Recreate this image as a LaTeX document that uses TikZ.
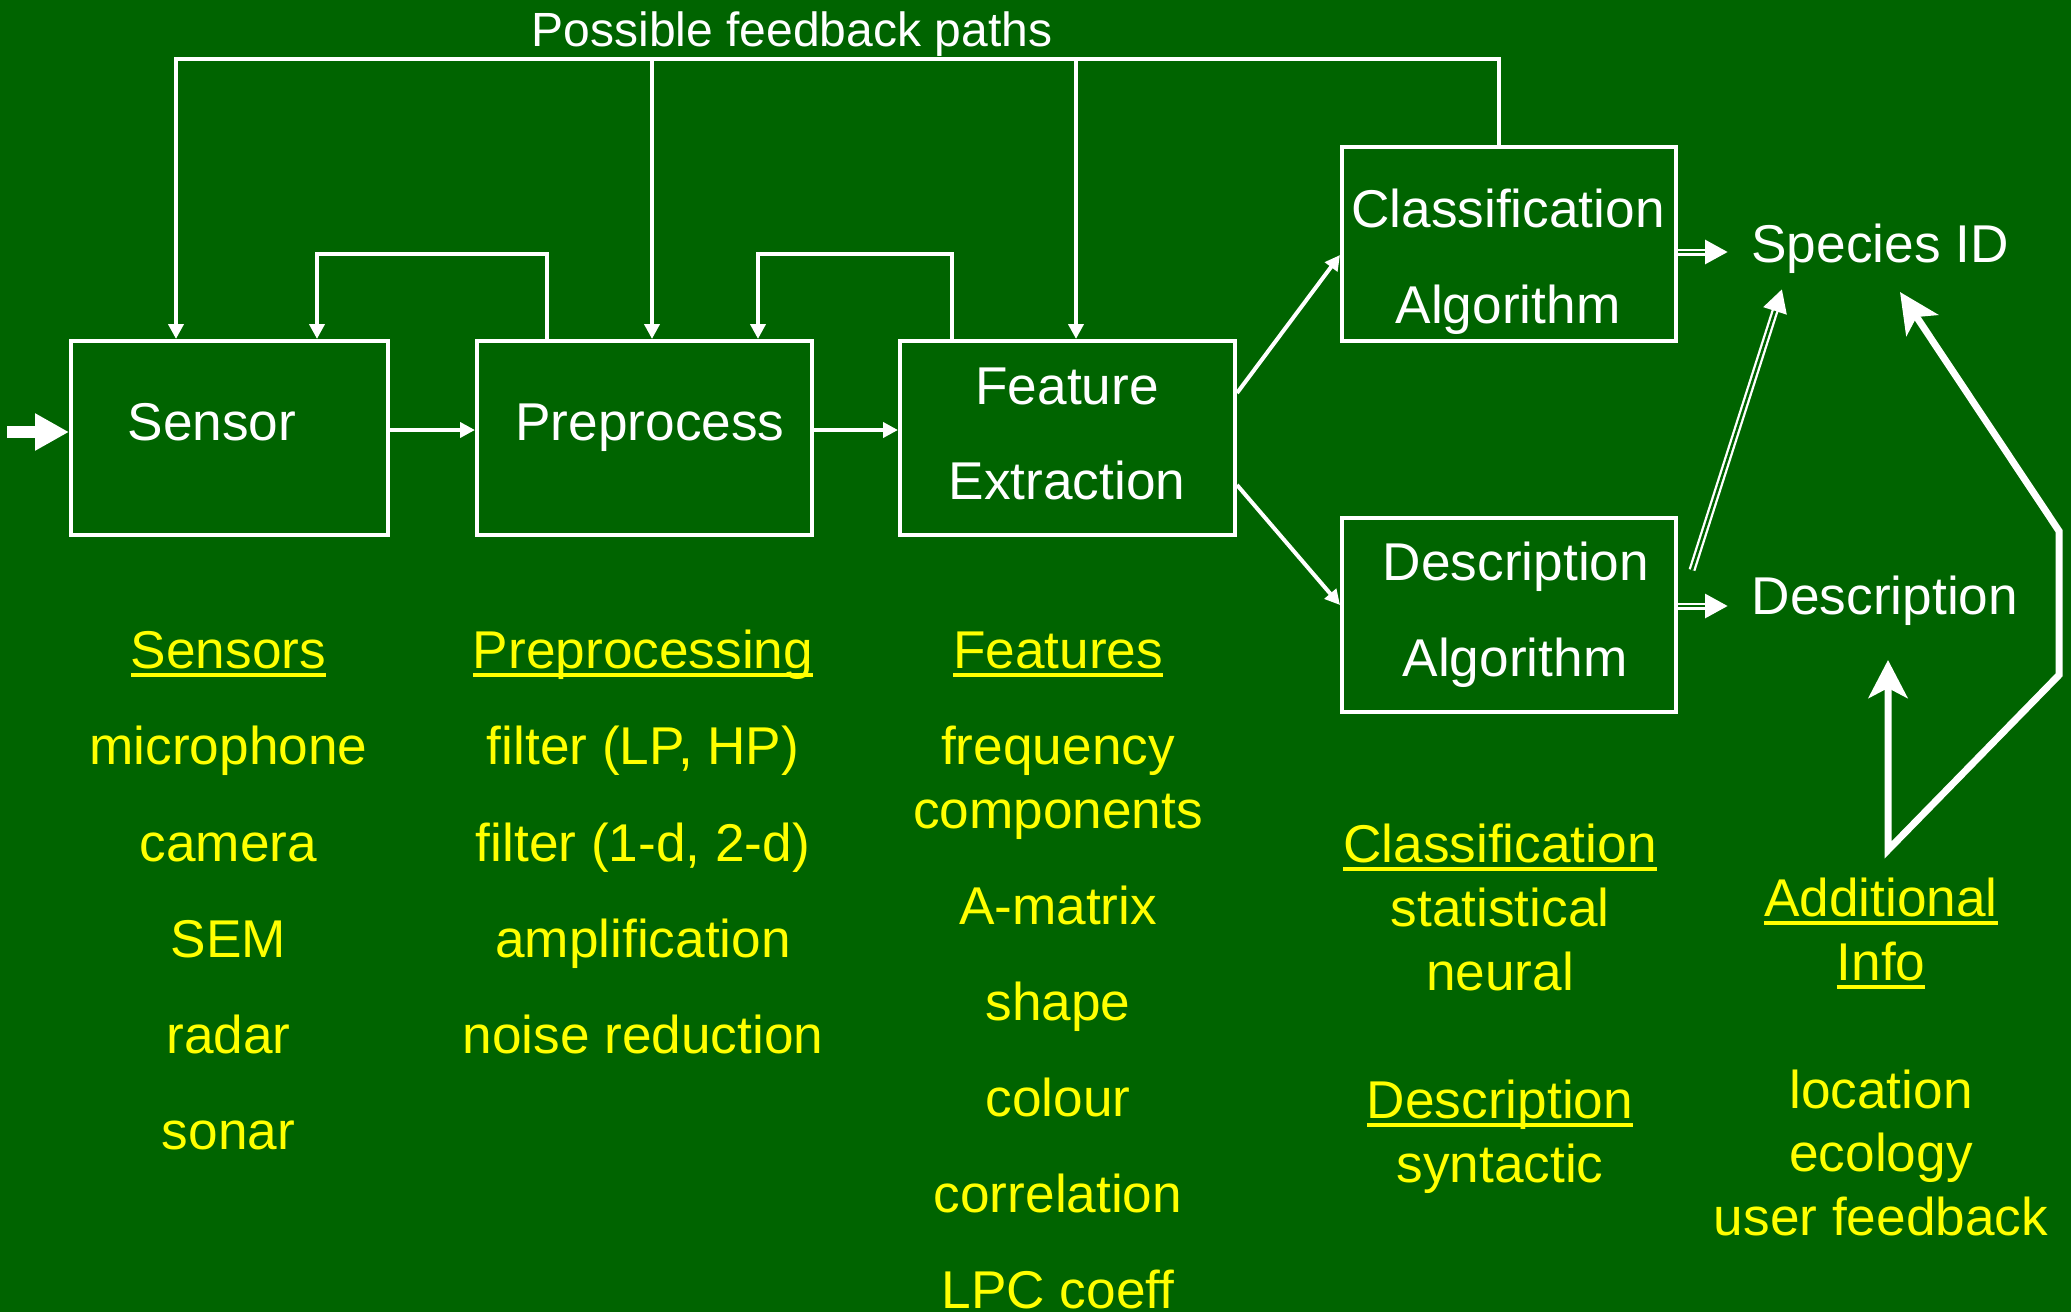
\documentclass[tikz,border=0pt]{standalone}
\usepackage{fontspec}
\setmainfont{Liberation Sans}
\usetikzlibrary{arrows.meta}
\definecolor{bg}{RGB}{0,100,0}
\definecolor{ylw}{RGB}{255,255,0}
% underlined heading: text with a 4pt rule below the baseline
\newcommand\undl[1]{\setbox0\hbox{#1}\rlap{\copy0}\rule[-9pt]{\wd0}{4pt}}

\begin{document}
\begin{tikzpicture}[x=1pt,y=-1pt,
  box/.style={draw=white, line width=4pt, inner sep=0pt, minimum height=194pt},
  wtxt/.style={text=white, font=\fontsize{53.2}{60}\selectfont, inner sep=0pt, anchor=base},
  ytxt/.style={text=ylw, font=\fontsize{53.2}{60}\selectfont, inner sep=0pt, anchor=base},
  wire/.style={draw=white, line width=4pt},
  arr/.style={wire, -{Triangle[length=15pt,width=15pt]}},
  dblw/.style={draw=white, line width=7pt, -{Triangle[length=23pt,width=23pt]}},
  dblg/.style={draw=bg, line width=2.4pt, shorten >=23pt},
  fat/.style={draw=white, line width=7pt, line join=miter}
]
\fill[bg] (0,0) rectangle (2071,1312);
\useasboundingbox (0,0) rectangle (2071,1312);

% processing blocks
\node[box, minimum width=317pt] (sensor) at (229.5,438) {};
\node[box, minimum width=335pt] (prep) at (644.5,438) {};
\node[box, minimum width=335pt] (feat) at (1067.5,438) {};
\node[box, minimum width=334pt] (cls) at (1509,244) {};
\node[box, minimum width=334pt] (dsc) at (1509,615) {};

% block labels and outputs
\node[wtxt] (sensorT) at (212,440) {Sensor};
\node[wtxt] (prepT) at (650,440) {Preprocess};
\node[wtxt] (featT1) at (1067,404) {Feature};
\node[wtxt] (featT2) at (1067,499) {Extraction};
\node[wtxt] (clsT1) at (1508,227) {Classification};
\node[wtxt] (clsT2) at (1508,323) {Algorithm};
\node[wtxt] (dscT1) at (1516,580) {Description};
\node[wtxt] (dscT2) at (1515,676) {Algorithm};
\node[wtxt] (species) at (1880,262) {Species ID};
\node[wtxt] (descout) at (1885,614) {Description};
\node[wtxt, font=\fontsize{48}{52}\selectfont] (fbT) at (792,46) {Possible feedback paths};

% helper points
\coordinate (in) at (7,432);
\coordinate (row) at (0,430);
\coordinate (fbL) at (176,59);
\coordinate (fbP) at (652,59);
\coordinate (fbF) at (1076,59);
\coordinate (fbR) at (1499,59);
\coordinate (l1a) at (547,254);
\coordinate (l1b) at (317,254);
\coordinate (l2a) at (952,254);
\coordinate (l2b) at (758,254);
\coordinate (fcA) at (1237,393);
\coordinate (fcB) at (0,255);
\coordinate (fdA) at (1237,485);
\coordinate (fdB) at (0,605);
\coordinate (yA) at (0,252);
\coordinate (spIn) at (1728,252);
\coordinate (yB) at (0,606);
\coordinate (dsIn) at (1728,606);
\coordinate (dsA) at (1692,570);
\coordinate (dsTip) at (1782,289);
\coordinate (upTip) at (1888,660);
\coordinate (bend) at (1888,850);
\coordinate (k1) at (2059,675);
\coordinate (k2) at (2059,531);
\coordinate (spTip) at (1900,292);

% input
\draw[draw=white, line width=12pt, -{Triangle[length=34pt,width=35pt]}] (in) -- (in -| sensor.west);

% forward chain
\draw[arr] (sensor.east |- row) -- (prep.west |- row);
\draw[arr] (prep.east |- row) -- (feat.west |- row);
\draw[arr] (fcA) -- (cls.west |- fcB);
\draw[arr] (fdA) -- (dsc.west |- fdB);

% feedback paths
\draw[wire, {Triangle[length=15pt,width=15pt]}-] (fbL |- sensor.north) -- (fbL) -- (fbR) -- (fbR |- cls.north);
\draw[arr] (fbP) -- (fbP |- prep.north);
\draw[arr] (fbF) -- (fbF |- feat.north);
\draw[arr] (prep.north -| l1a) -- (l1a) -- (l1b) -- (l1b |- sensor.north);
\draw[arr] (feat.north -| l2a) -- (l2a) -- (l2b) -- (l2b |- prep.north);

% outputs (double-line arrows)
\draw[dblw] (cls.east |- yA) -- (spIn);
\draw[dblg] (cls.east |- yA) -- (spIn);
\draw[dblw] (dsc.east |- yB) -- (dsIn);
\draw[dblg] (dsc.east |- yB) -- (dsIn);
\draw[dblw] (dsA) -- (dsTip);
\draw[dblg] (dsA) -- (dsTip);

% additional information arrows
\draw[fat, {Stealth[length=38pt,width=39pt,inset=10pt]}-{Stealth[length=40pt,width=38pt,inset=10pt]}]
  (upTip) -- (bend) -- (k1) -- (k2) -- (spTip);

% sensors column
\node[ytxt] (s0) at (228.5,668) {\undl{Sensors}};
\node[ytxt] (s1) at (228.5,764) {microphone};
\node[ytxt] (s2) at (228.5,861) {camera};
\node[ytxt] (s3) at (228.5,957) {SEM};
\node[ytxt] (s4) at (228.5,1053) {radar};
\node[ytxt] (s5) at (228.5,1149) {sonar};

% preprocessing column
\node[ytxt] (p0) at (643,668) {\undl{Preprocessing}};
\node[ytxt] (p1) at (643,764) {filter (LP, HP)};
\node[ytxt] (p2) at (643,861) {filter (1-d, 2-d)};
\node[ytxt] (p3) at (643,957) {amplification};
\node[ytxt] (p4) at (643,1053) {noise reduction};

% features column
\node[ytxt] (f0) at (1058,668) {\undl{Features}};
\node[ytxt] (f1) at (1058,764) {frequency};
\node[ytxt] (f2) at (1058,828) {components};
\node[ytxt] (f3) at (1058,924) {A-matrix};
\node[ytxt] (f4) at (1058,1020) {shape};
\node[ytxt] (f5) at (1058,1116) {colour};
\node[ytxt] (f6) at (1058,1212) {correlation};
\node[ytxt] (f7) at (1058,1308) {LPC coeff};

% algorithms column
\node[ytxt] (c0) at (1500,862) {\undl{Classification}};
\node[ytxt] (c1) at (1500,926) {statistical};
\node[ytxt] (c2) at (1500,990) {neural};
\node[ytxt] (d0) at (1500,1118) {\undl{Description}};
\node[ytxt] (d1) at (1500,1182) {syntactic};

% additional information column
\node[ytxt] (a0) at (1881,916) {\undl{Additional}};
\node[ytxt] (a1) at (1881,980) {\undl{Info}};
\node[ytxt] (a2) at (1881,1108) {location};
\node[ytxt] (a3) at (1881,1171) {ecology};
\node[ytxt] (a4) at (1881,1235) {user feedback};
\end{tikzpicture}
\end{document}
